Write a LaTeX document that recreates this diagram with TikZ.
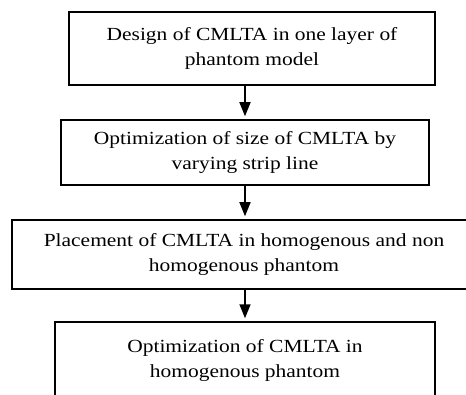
\documentclass[tikz,border=0pt]{standalone}
\usepackage{fontspec}
\setmainfont[FakeStretch=1.16]{Liberation Serif}
\usepackage{tikz}
\usetikzlibrary{arrows.meta,positioning}
\tikzstyle{process} = [rectangle, align=center, text centered, draw=black, line width=1.5pt, font=\fontsize{18.5}{25}\selectfont]
\tikzstyle{arrow} = [line width=1.5pt,-{Triangle[width=11pt,length=14pt]},shorten >=3pt]

\begin{document}
\begin{tikzpicture}[x=1pt,y=1pt]
\clip (0,0) rectangle (466,394);
\node (step1) [process, minimum width=366pt, minimum height=73pt] at (252,345.5) {Design of CMLTA in one layer of\\phantom model};
\node (step2) [process, minimum width=368pt, minimum height=65pt] at (245,241.5) {Optimization of size of CMLTA by\\varying strip line};
\node (step3) [process, minimum width=464pt, minimum height=69pt] at (244,139.5) {Placement of CMLTA in homogenous and non\\homogenous phantom};
\node (step4) [process, minimum width=380pt, minimum height=76pt] at (245,34) {Optimization of CMLTA in\\homogenous phantom};
\draw [arrow] (step1.south -| step2.north) -- (step2.north);
\draw [arrow] (step2.south) -- (step3.north -| step2.south);
\draw [arrow] (step3.south -| step2.south) -- (step4.north -| step2.south);
\end{tikzpicture}
\end{document}
